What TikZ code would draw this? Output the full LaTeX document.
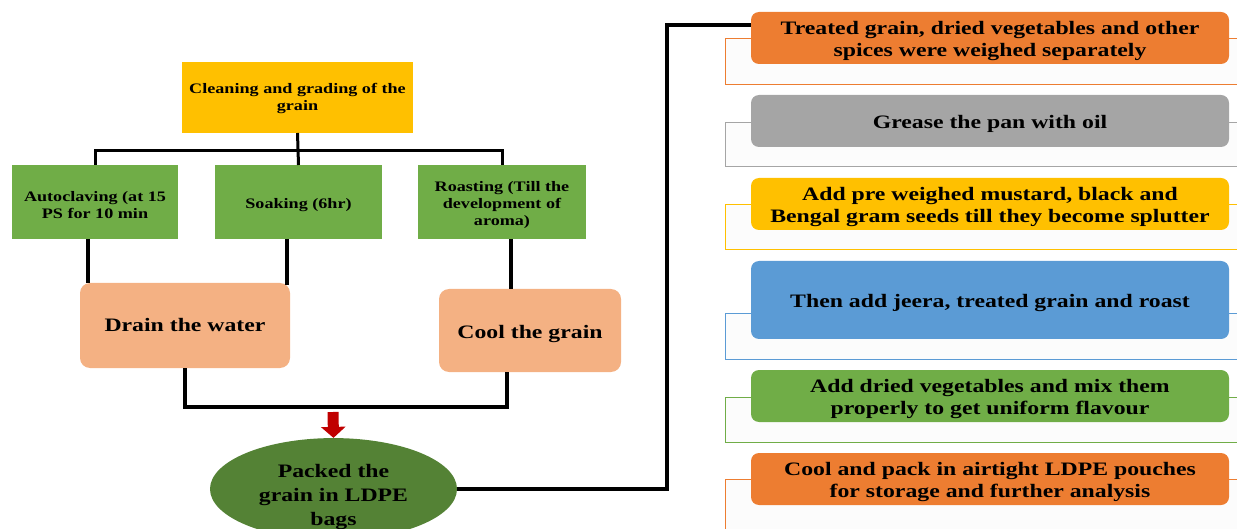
\documentclass[tikz,border=0pt]{standalone}
\usepackage{fontspec}
\setmainfont{Liberation Serif}[FakeStretch=1.25]
\usetikzlibrary{shapes.geometric,arrows.meta}
\definecolor{cOrange}{HTML}{ED7D31}
\definecolor{cGray}{HTML}{A5A5A5}
\definecolor{cYellow}{HTML}{FFC000}
\definecolor{cBlue}{HTML}{5B9BD5}
\definecolor{cGreen}{HTML}{70AD47}
\definecolor{cDark}{HTML}{548235}
\definecolor{cSalmon}{HTML}{F4B183}
\definecolor{cRed}{HTML}{C00000}
\definecolor{cBg}{HTML}{FCFCFC}
\newcommand{\lowtext}[2]{\raisebox{#1}[\height][\depth]{\begin{tabular}{@{}c@{}}#2\end{tabular}}}
\begin{document}
\begin{tikzpicture}[x=1pt,y=-1pt,
  sq/.style={rectangle, inner sep=0pt, outer sep=0pt, align=center, font=\fontsize{14.5}{17}\selectfont\bfseries},
  soft/.style={rectangle, rounded corners=10pt, fill=cSalmon, inner sep=0pt, outer sep=0pt, align=center, font=\fontsize{19}{22}\selectfont\bfseries},
  stepbox/.style={rectangle, rounded corners=8pt, inner sep=0pt, outer sep=0pt, minimum width=478pt, align=center, font=\fontsize{19}{22}\selectfont\bfseries},
  back/.style={rectangle, inner sep=0pt, outer sep=0pt, minimum width=525pt, fill=cBg, line width=0.8pt},
  link/.style={line width=3pt, black},
  bold/.style={line width=4pt, black}
]
\useasboundingbox (0,0) rectangle (1237,529);
\clip (0,0) rectangle (1237,529);

% left tree
\node[sq, fill=cYellow, minimum width=231pt, minimum height=71pt] (clean) at (297.5,97.5) {\lowtext{-1pt}{Cleaning and grading of the\\grain}};
\node[sq, fill=cGreen, minimum width=166pt, minimum height=74pt] (auto) at (95,202) {\lowtext{-5pt}{Autoclaving (at 15\\PS for 10 min}};
\node[sq, fill=cGreen, minimum width=167pt, minimum height=74pt] (soak) at (298.5,202) {\lowtext{-3pt}{Soaking (6hr)}};
\node[sq, fill=cGreen, minimum width=168pt, minimum height=74pt] (roast) at (502,202) {\lowtext{-3pt}{Roasting (Till the\\development of\\aroma)}};
\coordinate (bus) at (0,151);
\draw[link] (clean.south) -- (soak.north);
\draw[link] (auto.north) -- (auto.north |- bus) -- (roast.north |- bus) -- (roast.north);

\node[soft, minimum width=210pt, minimum height=85pt] (drain) at (185,325.5) {\lowtext{-2pt}{Drain the water}};
\node[soft, minimum width=182pt, minimum height=83pt] (cool) at (530,330.5) {\lowtext{-4pt}{Cool the grain}};

\draw[bold] ([xshift=-7pt]auto.south) -- ([xshift=-7pt]auto.south |- drain.north);
\draw[bold] ([xshift=-12pt]soak.south) -- ([xshift=-12pt,yshift=-2pt]soak.south |- drain.north);
\draw[bold] ([xshift=9pt]roast.south) -- ([xshift=9pt]roast.south |- cool.north);
\coordinate (low) at (0,407);
\draw[bold] (drain.south) -- (drain.south |- low) -- ([xshift=-23pt]cool.south |- low) -- ([xshift=-23pt]cool.south);

\node[ellipse, fill=cDark, minimum width=247pt, minimum height=78pt, inner sep=0pt, align=center, font=\fontsize{19}{24}\selectfont\bfseries] (pack) at (333.5,489) {\lowtext{-8pt}{Packed the\\grain in LDPE\\bags}};
\coordinate (arrtop) at (333,412);
\draw[cRed, line width=11pt, -{Triangle[width=24pt,length=11pt]}] (arrtop) -- (pack.north);

% right column
\node[back, draw=cOrange, minimum height=46pt] (b1) at (987.5,61) {};
\node[back, draw=cGray, minimum height=44pt] (b2) at (987.5,144) {};
\node[back, draw=cYellow, minimum height=45pt] (b3) at (987.5,226.5) {};
\node[back, draw=cBlue, minimum height=46pt] (b4) at (987.5,336) {};
\node[back, draw=cGreen, minimum height=45pt] (b5) at (987.5,419.5) {};
\node[back, draw=cOrange, minimum height=62pt] (b6) at (987.5,510) {};

\node[stepbox, fill=cOrange, minimum height=52pt] (t1) at (990,38) {\lowtext{-3pt}{Treated grain, dried vegetables and other\\spices were weighed separately}};
\node[stepbox, fill=cGray, minimum height=52pt] (t2) at (990,121) {\lowtext{-3pt}{Grease the pan with oil}};
\node[stepbox, fill=cYellow, minimum height=52pt] (t3) at (990,204) {\lowtext{-3pt}{Add pre weighed mustard, black and\\Bengal gram seeds till they become splutter}};
\node[stepbox, fill=cBlue, minimum height=78pt] (t4) at (990,300) {\lowtext{-3pt}{Then add jeera, treated grain and roast}};
\node[stepbox, fill=cGreen, minimum height=52pt] (t5) at (990,396) {\lowtext{-3pt}{Add dried vegetables and mix them\\properly to get uniform flavour}};
\node[stepbox, fill=cOrange, minimum height=52pt] (t6) at (990,479) {\lowtext{-3pt}{Cool and pack in airtight LDPE pouches\\for storage and further analysis}};

\coordinate (vl) at (667,0);
\draw[bold] (pack.east) -- (pack.east -| vl) -- ([yshift=13pt]t1.west -| vl) -- ([yshift=13pt]t1.west);
\end{tikzpicture}
\end{document}
